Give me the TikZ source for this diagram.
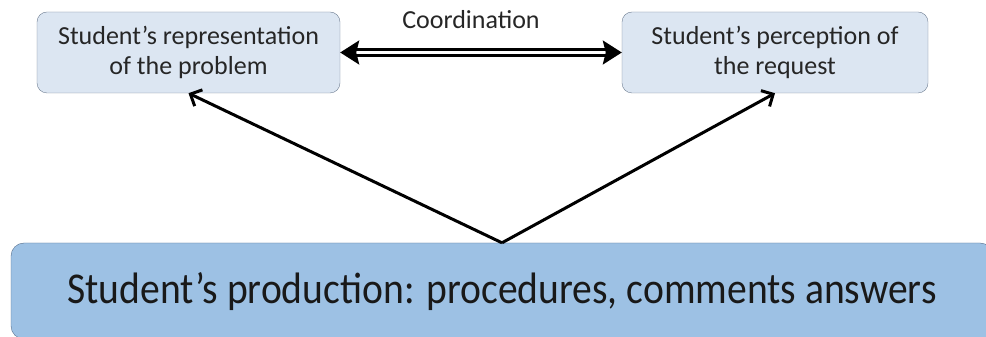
\documentclass[tikz,border=0pt]{standalone}
\usepackage{fontspec}
\setmainfont{Carlito}
\newfontfamily\prodfont[FakeStretch=0.9, Ligatures=TeX]{Carlito}
\usetikzlibrary{arrows.meta, positioning, calc}
\definecolor{lightBoxColor}{RGB}{220,230,242}
\definecolor{lightEdgeColor}{RGB}{110,125,145}
\definecolor{prodColor}{RGB}{157,193,228}
\definecolor{prodEdgeColor}{RGB}{85,110,140}

\begin{document}
\begin{tikzpicture}[
        x=1pt, y=1pt,
        smallbox/.style={rectangle, draw=lightEdgeColor, fill=lightBoxColor, rounded corners=10pt, minimum width=303pt, minimum height=81pt, align=center, font=\fontsize{26}{30}\selectfont, text=black!85},
        bigbox/.style={rectangle, draw=prodEdgeColor, fill=prodColor, rounded corners=13pt, minimum width=982pt, minimum height=96pt, text height=26pt, text depth=0pt, font=\prodfont\fontsize{44}{50}\selectfont, text=black!90},
        arrow/.style={-{Straight Barb[length=9pt,width=18pt]}, line width=3pt},
        dblarrow/.style={{Stealth[length=19pt,width=24pt,inset=3pt]}-{Stealth[length=19pt,width=24pt,inset=3pt]}, double, double distance=3.5pt, line width=2.4pt}
    ]
        \useasboundingbox (0,0) rectangle (986,337);

        % Upper boxes
        \node[smallbox] (repr) at (188.5,284.5) {Student's representation\\of the problem};
        \node[smallbox, minimum width=306pt] (perc) at (775,284.5) {Student's perception of\\the request};

        % Production
        \node[bigbox] (prod) at (502,46) {Student's production: procedures, comments answers};

        % Coordination
        \draw[dblarrow] (repr) -- (perc) node[midway, above=19pt, xshift=-10pt, font=\fontsize{26}{30}\selectfont, text=black!85] (coordlabel) {Coordination};

        % Arrows up
        \draw[arrow] (prod.north) -- (repr.south);
        \draw[arrow] (prod.north) -- (perc.south);
    \end{tikzpicture}
\end{document}
